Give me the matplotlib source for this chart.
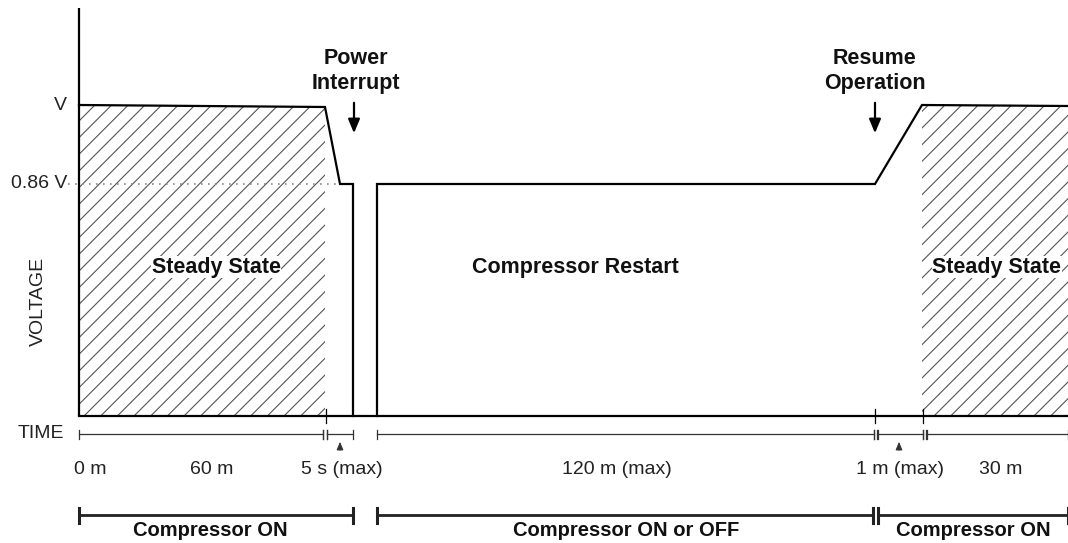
import matplotlib
matplotlib.use("Agg")
import matplotlib.pyplot as plt
from matplotlib.patches import Polygon

plt.rcParams['font.family'] = ['Liberation Sans', 'DejaVu Sans']
plt.rcParams['hatch.linewidth'] = 0.8

# schematic coordinates (figure pixels, y grows downwards)
y_base = 416
y_v = 105
y_086 = 184
x_axis = 79

# voltage trace, split in two pieces by the interruption
trace1_x = [x_axis, 325, 340, 353, 353]
trace1_y = [y_v, 107, y_086, y_086, y_base]
trace2_x = [377, 377, 875, 922, 1068]
trace2_y = [y_base, y_086, y_086, y_v, 106]

# hatched steady state regions
hatch1_x = [x_axis, 325, 325, x_axis]
hatch1_y = [y_v, 107, y_base, y_base]
hatch2_x = [922, 1068, 1068, 922]
hatch2_y = [y_v, 106, y_base, y_base]

# time scale segments (start, end) and labels
time_segments = [(79, 323), (327, 353), (377, 874), (877, 923), (926, 1068)]
double_ticks = [325, 875.5, 924.5]
time_labels = ["0 m", "60 m", "5 s (max)", "120 m (max)", "1 m (max)", "30 m"]
time_label_x = [90, 212, 342, 617, 900, 1001]
small_arrows_x = [340, 899]

# compressor state bars
bars = [(79, 353, "Compressor ON"), (377, 873, "Compressor ON or OFF"), (878, 1068, "Compressor ON")]
bar_label_x = [210, 626, 973]

fig = plt.figure(figsize=(10.68, 5.43), dpi=100)
ax = fig.add_axes([0, 0, 1, 1])
ax.set_xlim(0, 1068)
ax.set_ylim(543, 0)
ax.axis('off')

lw = 1.6
# axes
ax.plot([x_axis, x_axis], [8, y_base], color='black', lw=lw, solid_capstyle='butt')
ax.plot([x_axis, 1068], [y_base, y_base], color='black', lw=lw)
for xt in [326, 875, 923]:
    ax.plot([xt, xt], [y_base - 7, y_base + 7], color='black', lw=0.9)

# hatches
for hx, hy in [(hatch1_x, hatch1_y), (hatch2_x, hatch2_y)]:
    ax.add_patch(Polygon(list(zip(hx, hy)), closed=True, facecolor='none',
                         edgecolor='#555555', hatch='//', lw=0))

# trace
ax.plot(trace1_x, trace1_y, color='black', lw=lw, solid_joinstyle='miter')
ax.plot(trace2_x, trace2_y, color='black', lw=lw, solid_joinstyle='miter')
ax.plot([68, 338], [y_086, y_086], color='#888888', lw=1.2, ls=(0, (1, 3.2)))

# y labels
reg = dict(fontsize=14, color='#222222')
ax.text(67, y_v, "V", ha='right', va='center', **reg)
ax.text(67, y_086, "0.86 V", ha='right', va='center', **reg)
ax.text(38, 301, "VOLTAGE", ha='center', va='center', rotation=90, **reg)
ax.text(18, 433, "TIME", ha='left', va='center', **reg)

# region labels
bold = dict(fontsize=15.5, fontweight='bold', color='#111111', ha='center', va='center')
box = dict(facecolor='white', edgecolor='none', pad=0.5)
ax.text(216, 267, "Steady State", bbox=box, **bold)
ax.text(575, 267, "Compressor Restart", **bold)
ax.text(997, 267, "Steady State", bbox=box, **bold)
ax.text(356, 71, "Power\nInterrupt", linespacing=1.2, **bold)
ax.text(875, 71, "Resume\nOperation", linespacing=1.2, **bold)
for ax_x in [354, 875]:
    ax.annotate("", xy=(ax_x, 136), xytext=(ax_x, 100),
                arrowprops=dict(arrowstyle='-|>,head_width=0.25,head_length=0.6',
                                color='black', lw=1.6, mutation_scale=14))

# time scale
y_t = 434
for x0, x1 in time_segments:
    ax.plot([x0, x1], [y_t, y_t], color='#333333', lw=0.9)
    for xe in (x0, x1):
        ax.plot([xe, xe], [y_t - 4.5, y_t + 4.5], color='#333333', lw=0.9)
for xd in double_ticks:
    for dx in (-2, 2):
        ax.plot([xd + dx, xd + dx], [y_t - 4.5, y_t + 4.5], color='#333333', lw=0.9)
for xa in small_arrows_x:
    ax.annotate("", xy=(xa, 439), xytext=(xa, 453),
                arrowprops=dict(arrowstyle='-|>,head_width=0.25,head_length=0.6',
                                color='#333333', lw=0.8, mutation_scale=8))
for lab, xl in zip(time_labels, time_label_x):
    ax.text(xl, 469, lab, ha='center', va='center', **reg)

# compressor bars
y_b = 515
for (x0, x1, lab), xl in zip(bars, bar_label_x):
    ax.plot([x0, x1], [y_b, y_b], color='#222222', lw=2)
    for xe in (x0, x1):
        ax.plot([xe, xe], [y_b - 7.5, y_b + 7.5], color='#222222', lw=2.2)
    ax.text(xl, 530, lab, fontsize=14.5, fontweight='bold', color='#111111', ha='center', va='center')

fig.savefig("out.png", dpi=100)
